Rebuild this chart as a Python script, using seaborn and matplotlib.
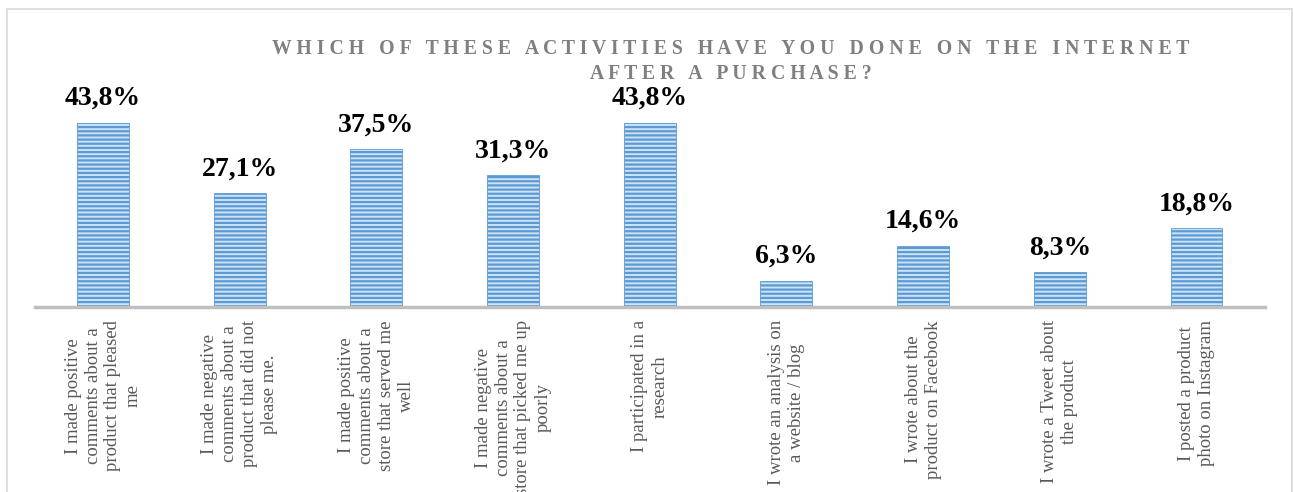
import matplotlib
matplotlib.use("Agg")
import matplotlib.pyplot as plt
import matplotlib.patches as mpatches
import seaborn as sns
import pandas as pd

categories = [
    "I made positive\ncomments about a\nproduct that pleased\nme",
    "I made negative\ncomments about a\nproduct that did not\nplease me.",
    "I made positive\ncomments about a\nstore that served me\nwell",
    "I made negative\ncomments about a\nstore that picked me up\npoorly",
    "I participated in a\nresearch",
    "I wrote an analysis on\na website / blog",
    "I wrote about the\nproduct on Facebook",
    "I wrote a Tweet about\nthe product",
    "I posted a product\nphoto on Instagram",
]
values = [43.8, 27.1, 37.5, 31.3, 43.8, 6.3, 14.6, 8.3, 18.8]
value_labels = ["43,8%", "27,1%", "37,5%", "31,3%", "43,8%", "6,3%", "14,6%", "8,3%", "18,8%"]
title_lines = ["WHICH OF THESE ACTIVITIES HAVE YOU DONE ON THE INTERNET", "AFTER A PURCHASE?"]

sns.set_style("white")
plt.rcParams["font.family"] = ["Liberation Serif", "DejaVu Serif"]
plt.rcParams["hatch.linewidth"] = 1.6

df = pd.DataFrame({"cat": categories, "val": values})

fig = plt.figure(figsize=(12.93, 4.92), dpi=100)
ax = fig.add_axes([0.0268, 0.376, 0.9514, 0.427])

sns.barplot(data=df, x="cat", y="val", ax=ax, color="#CFE2F5", width=0.38,
            edgecolor="#5B9BD5", linewidth=0.6, saturation=1)
for p in ax.patches:
    p.set_hatch("----")

ax.set_ylim(0, 50)
ax.set_xlim(-0.5, len(categories) - 0.5)
ax.set_xlabel("")
ax.set_ylabel("")
ax.set_yticks([])
for s in ["top", "right", "left"]:
    ax.spines[s].set_visible(False)
ax.spines["bottom"].set_color("#BFBFBF")
ax.spines["bottom"].set_linewidth(2.5)
ax.tick_params(axis="x", length=0, pad=9.5)
ax.set_xticks(range(len(categories)))
ax.set_xticklabels(categories, rotation=90, ha="center", va="top",
                   multialignment="center", fontsize=13.5, color="#595959",
                   linespacing=1.22)

for i, (v, lab) in enumerate(zip(values, value_labels)):
    ax.annotate(lab, xy=(i, v), xytext=(0, 8.5), textcoords="offset points",
                ha="center", va="bottom", fontsize=20, fontweight="bold", color="black")

def spaced(s):
    return "   ".join(" ".join(w) for w in s.split(" "))

fig.text(0.565, 0.9, spaced(title_lines[0]), ha="center", va="center",
         fontsize=14.2, fontweight="bold", color="#7F7F7F")
fig.text(0.565, 0.849, spaced(title_lines[1]), ha="center", va="center",
         fontsize=14.2, fontweight="bold", color="#7F7F7F")

border = mpatches.Rectangle((7 / 1293, -0.05), 1285 / 1293, 1.05 - 9 / 492,
                            transform=fig.transFigure, fill=False,
                            edgecolor="#D9D9D9", linewidth=1.2)
fig.patches.append(border)

fig.savefig("out.png", dpi=100)
